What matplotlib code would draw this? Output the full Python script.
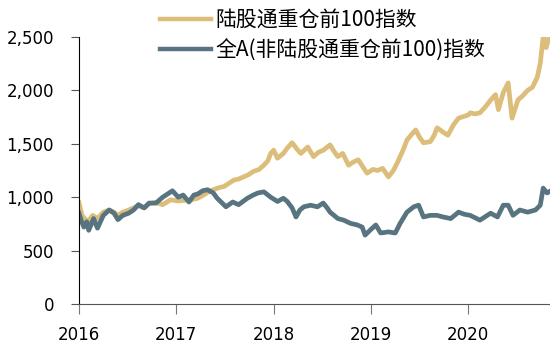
import matplotlib
matplotlib.use("Agg")
import matplotlib.pyplot as plt
from matplotlib.ticker import FuncFormatter

plt.rcParams['font.family'] = ['Noto Sans CJK SC', 'DejaVu Sans']

series_names = ["陆股通重仓前100指数", "全A(非陆股通重仓前100)指数"]
x_ticks = [2016, 2017, 2018, 2019, 2020]
y_ticks = [0, 500, 1000, 1500, 2000, 2500]

gold_t = [2016.00, 2016.03, 2016.07, 2016.10, 2016.14, 2016.19, 2016.25, 2016.31, 2016.36,
          2016.40, 2016.45, 2016.51, 2016.56, 2016.61, 2016.67, 2016.72, 2016.79, 2016.86,
          2016.94, 2017.02, 2017.08, 2017.15, 2017.22, 2017.28, 2017.33, 2017.38, 2017.44,
          2017.49, 2017.54, 2017.59, 2017.64, 2017.69, 2017.74, 2017.79, 2017.85, 2017.90,
          2017.94, 2017.97, 2018.00, 2018.04, 2018.10, 2018.14, 2018.19, 2018.24, 2018.28,
          2018.35, 2018.41, 2018.46, 2018.51, 2018.58, 2018.62, 2018.66, 2018.71, 2018.77,
          2018.82, 2018.87, 2018.92, 2018.96, 2019.02, 2019.07, 2019.12, 2019.18, 2019.23,
          2019.27, 2019.33, 2019.37, 2019.42, 2019.46, 2019.50, 2019.54, 2019.61, 2019.65,
          2019.68, 2019.74, 2019.79, 2019.85, 2019.90, 2020.00, 2020.02, 2020.07, 2020.12,
          2020.18, 2020.23, 2020.28, 2020.31, 2020.36, 2020.41, 2020.45, 2020.51, 2020.56,
          2020.61, 2020.66, 2020.71, 2020.74, 2020.77, 2020.80, 2020.83]
gold_v = [950, 830, 790, 780, 830, 800, 860, 880, 860,
          830, 860, 880, 900, 920, 900, 940, 950, 930,
          975, 965, 970, 975, 990, 1020, 1050, 1070, 1090,
          1100, 1130, 1160, 1170, 1190, 1210, 1240, 1260, 1300,
          1340, 1410, 1440, 1365, 1410, 1460, 1510, 1450, 1410,
          1470, 1380, 1420, 1440, 1490, 1430, 1380, 1410, 1300,
          1330, 1350, 1280, 1225, 1260, 1250, 1270, 1190, 1250,
          1320, 1440, 1535, 1590, 1630, 1560, 1510, 1520, 1580,
          1650, 1610, 1580, 1680, 1740, 1770, 1790, 1780, 1790,
          1850, 1910, 1960, 1820, 1980, 2070, 1740, 1910, 1950,
          2000, 2030, 2125, 2255, 2500, 2400, 2500]

gray_t = [2016.00, 2016.02, 2016.05, 2016.08, 2016.10, 2016.15, 2016.19, 2016.25, 2016.31,
          2016.36, 2016.40, 2016.45, 2016.51, 2016.56, 2016.61, 2016.67, 2016.72, 2016.79,
          2016.86, 2016.91, 2016.96, 2017.02, 2017.07, 2017.13, 2017.18, 2017.22, 2017.27,
          2017.32, 2017.38, 2017.42, 2017.46, 2017.51, 2017.58, 2017.64, 2017.73, 2017.79,
          2017.84, 2017.90, 2017.97, 2018.04, 2018.10, 2018.14, 2018.19, 2018.23, 2018.27,
          2018.31, 2018.38, 2018.45, 2018.51, 2018.55, 2018.58, 2018.66, 2018.72, 2018.79,
          2018.86, 2018.91, 2018.94, 2018.99, 2019.05, 2019.10, 2019.18, 2019.25, 2019.30,
          2019.37, 2019.44, 2019.49, 2019.54, 2019.61, 2019.68, 2019.74, 2019.82, 2019.90,
          2019.96, 2020.02, 2020.12, 2020.23, 2020.30, 2020.36, 2020.41, 2020.46, 2020.53,
          2020.61, 2020.69, 2020.74, 2020.77, 2020.81, 2020.83]
gray_v = [850, 790, 720, 770, 690, 800, 710, 830, 880,
          850, 790, 830, 850, 880, 930, 900, 945, 945,
          1000, 1030, 1060, 1000, 1020, 955, 1020, 1030, 1060,
          1070, 1040, 990, 955, 910, 955, 930, 990, 1020,
          1040, 1050, 1000, 960, 990, 960, 900, 815, 880,
          910, 925, 910, 945, 900, 860, 800, 785, 755,
          740, 720, 645, 690, 740, 665, 675, 665, 755,
          860, 910, 925, 815, 830, 830, 815, 800, 860,
          840, 830, 785, 850, 815, 925, 925, 830, 880,
          860, 880, 925, 1085, 1040, 1050]

gold_color = "#DCBE7A"
gray_color = "#587480"

fig = plt.figure(figsize=(5.5, 3.5), dpi=100)
ax = fig.add_axes([79/550, 46/350, 1 - 79/550, (304-37)/350])

ax.plot(gold_t, gold_v, color=gold_color, lw=3.4, label=series_names[0], solid_joinstyle='round')
ax.plot(gray_t, gray_v, color=gray_color, lw=3.4, label=series_names[1], solid_joinstyle='round')

ax.set_xlim(2016, 2020.84)
ax.set_ylim(0, 2500)
ax.set_xticks(x_ticks)
ax.set_xticklabels([str(v) for v in x_ticks])
ax.set_yticks(y_ticks)
ax.yaxis.set_major_formatter(FuncFormatter(lambda v, p: f"{int(v):,}"))

for s in ['top', 'right']:
    ax.spines[s].set_visible(False)
ax.spines['left'].set_color('black')
ax.spines['bottom'].set_color('#555555')
ax.tick_params(axis='y', direction='out', length=6, color='#555555', labelsize=12, pad=12)
ax.tick_params(axis='x', direction='out', length=7, color='#777777', labelsize=12, pad=9)
for lab in ax.get_xticklabels() + ax.get_yticklabels():
    lab.set_fontfamily('DejaVu Sans')

leg = fig.legend(loc='upper left', bbox_to_anchor=(160/550, 0.974), bbox_transform=fig.transFigure,
                 frameon=False, fontsize=15, handlelength=2.45, handletextpad=0.2,
                 labelspacing=0.39, borderaxespad=0, borderpad=0)
for line in leg.get_lines():
    line.set_linewidth(3.2)

fig.savefig("out.png", dpi=100)
